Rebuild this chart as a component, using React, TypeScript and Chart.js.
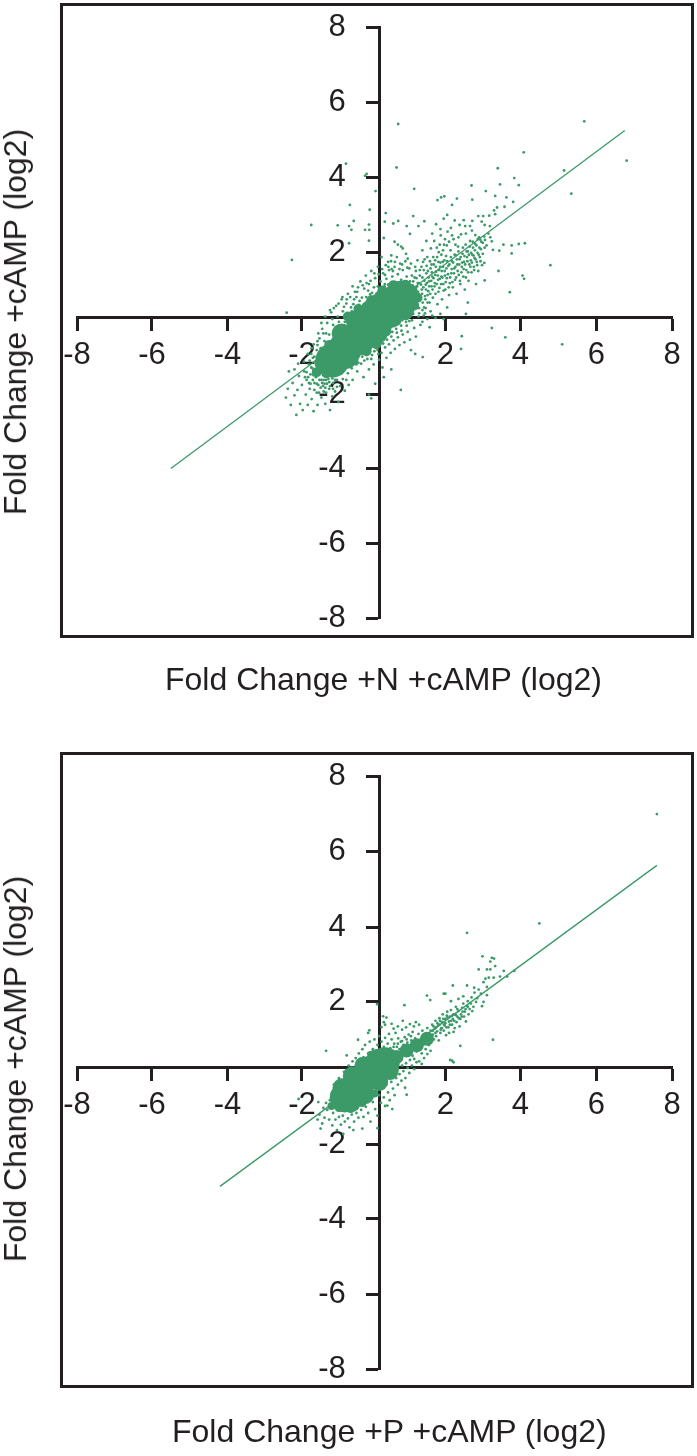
import React, { useEffect, useRef } from "react";
import { Chart, registerables, LinearScale } from "chart.js";

const tickValues = [-8, -6, -4, -2, 2, 4, 6, 8];
const warpValues = [-8, -6, -4, -2, 0, 2, 4, 6, 8];
const warpFractions = [0, 0.126, 0.253, 0.378, 0.509, 0.619, 0.745, 0.873, 1];

type P = [number, number];

const topFitLine: P[] = [[-5.5, -4.0], [6.75, 5.25]];
const topCoreWide: P[] = [[-1.22, -1.12], [-0.9, -0.83], [-0.51, -0.49], [-0.13, -0.13], [0.31, 0.28], [0.66, 0.6]];
const topCoreMid: P[] = [[-0.98, -0.42], [-0.62, -0.08], [-0.25, 0.22], [0.1, 0.55], [0.45, 0.72], [-0.85, -1.08], [-0.45, -0.72], [-0.05, -0.42], [0.35, -0.02], [0.75, 0.22]];
const topCoreEdge: P[] = [[-1.55, -1.2], [-1.3, -0.72], [-1.1, -0.4], [-0.82, 0.02], [-0.55, 0.25], [-0.22, 0.52], [0.08, 0.82], [0.41, 0.98], [0.78, 1.0], [1.0, 0.82], [1.15, 0.6], [1.05, 0.36], [0.8, 0.06], [0.5, -0.1], [0.2, -0.36], [-0.09, -0.7], [-0.34, -0.88], [-0.68, -1.12], [-1.03, -1.28], [-1.37, -1.45], [-1.62, -1.42]];
const topOutliers: P[] = [[5.68, 5.49], [6.8, 4.45], [5.15, 4.19], [5.34, 3.57], [4.09, 4.67], [0.51, 4.27], [0.56, 5.42], [-0.87, 4.37], [-0.38, 4.05], [-0.34, 4.1], [-0.11, 3.64], [1.05, 3.7], [-0.77, 3.27], [-1.76, 2.73], [-2.27, 1.76], [-2.41, 0.14], [-0.26, 3.14], [-1.08, 2.72], [-0.79, 2.7], [-0.67, 2.84], [-0.73, 2.6], [-0.38, 2.6], [-0.28, 2.74], [-0.27, 2.6], [-0.28, 2.31], [-0.79, 2.24], [0.18, 3.05], [0.15, 2.82], [0.41, 2.77], [0.56, 2.84], [0.12, 2.38], [0.82, 2.7], [1.02, 2.97], [1.36, 2.83], [1.18, 2.7], [0.92, 2.49], [1.76, 3.4], [1.87, 3.47], [1.97, 3.5], [2.18, 3.27], [2.31, 3.44], [2.72, 3.41], [2.7, 3.79], [3.08, 3.64], [3.33, 3.51], [3.4, 4.25], [3.46, 3.82], [3.84, 3.99], [3.96, 3.8], [3.63, 3.47], [3.81, 3.35], [3.58, 3.22], [3.38, 3.2], [3.3, 3.12], [3.33, 3.02], [2.88, 2.97], [3.01, 2.97], [3.17, 2.98], [2.72, 2.84], [2.97, 2.82], [3.05, 2.73], [3.19, 2.7], [2.49, 2.86], [2.38, 2.73], [2.53, 2.7], [2.66, 2.7], [2.71, 2.58], [2.8, 2.46], [2.93, 2.34], [3.06, 2.33], [3.24, 2.29], [3.27, 2.06], [3.44, 2.04], [3.55, 2.2], [3.77, 2.18], [3.77, 1.96], [3.96, 2.22], [4.12, 2.24], [4.06, 1.28], [4.1, 1.18], [3.72, 0.77], [3.05, 1.13], [3.04, 1.67], [3.24, -0.28], [3.6, -0.52], [2.44, -0.49], [2.42, -0.82], [1.52, -0.26], [1.31, -1.03], [0.64, -1.88], [4.79, 1.6], [5.1, -0.7], [3.42, 1.42]];
const topArm: P[] = [[1.0, 0.2], [1.05, 0.5], [1.1, 0.9], [1.12, 1.2], [1.15, 0.35], [1.18, 0.7], [1.2, 1.05], [1.22, 1.45], [1.25, 0.55], [1.28, 0.85], [1.3, 1.22], [1.32, 1.7], [1.35, 0.3], [1.38, 0.65], [1.4, 1.0], [1.42, 1.35], [1.45, 1.85], [1.48, 0.8], [1.5, 1.1], [1.52, 0.45], [1.55, 1.5], [1.56, 2.1], [1.58, 0.95], [1.6, 1.25], [1.62, 0.6], [1.65, 1.62], [1.66, 2.3], [1.68, 1.05], [1.7, 0.72], [1.72, 1.4], [1.75, 1.85], [1.76, 0.4], [1.78, 1.15], [1.8, 2.0], [1.82, 0.9], [1.84, 1.55], [1.86, 2.45], [1.88, 1.25], [1.9, 0.55], [1.92, 1.7], [1.94, 1.02], [1.96, 2.2], [1.98, 1.42], [2.0, 0.85], [2.02, 1.88], [2.04, 1.2], [2.06, 2.55], [2.08, 1.58], [2.1, 0.68], [2.12, 1.05], [2.14, 2.05], [2.16, 1.35], [2.18, 1.72], [2.2, 0.92], [2.22, 2.35], [2.24, 1.5], [2.26, 1.15], [2.28, 1.9], [2.3, 0.72], [2.32, 1.62], [2.34, 2.15], [2.36, 1.3], [2.38, 1.78], [2.4, 1.02], [2.42, 2.48], [2.44, 1.55], [2.46, 1.95], [2.48, 1.25], [2.5, 1.7], [2.52, 0.85], [2.54, 2.2], [2.56, 1.45], [2.58, 1.85], [2.6, 2.02], [2.62, 1.12], [2.64, 1.62], [2.66, 2.3], [2.68, 1.75], [2.7, 1.38], [2.72, 1.92], [2.74, 2.12], [2.76, 1.55], [2.78, 1.82], [2.8, 2.22], [2.82, 1.02], [2.84, 1.7], [2.86, 1.98], [2.88, 1.42], [2.9, 2.4], [2.92, 1.85], [2.95, 2.08], [2.98, 1.6], [3.0, 2.25], [3.04, 2.42], [3.1, 2.18], [3.15, 2.5], [3.2, 2.4], [1.3, 2.05], [1.42, 2.3], [1.15, 1.75], [1.08, 1.55], [0.95, 1.65], [0.85, 1.8], [0.8, 1.95], [0.7, 2.1], [0.65, 2.15], [0.55, 2.2], [0.45, 2.28], [0.35, 1.9], [0.25, 1.7], [1.72, 2.75], [1.95, 2.9], [2.05, 3.0], [2.15, 2.65], [2.25, 2.85], [1.6, 2.5], [1.85, 2.62], [2.35, 2.4], [2.55, 2.5], [2.6, 0.45], [2.55, 0.1], [1.85, 0.1], [2.05, 0.3], [1.95, -0.05], [1.7, -0.02]];
const topArmDense: P[] = [[1.02, 0.42], [1.06, 0.68], [1.1, 0.52], [1.14, 0.95], [1.17, 0.78], [1.2, 0.28], [1.23, 0.62], [1.26, 1.0], [1.29, 0.72], [1.31, 0.45], [1.33, 0.92], [1.36, 1.12], [1.39, 0.55], [1.41, 0.85], [1.44, 1.05], [1.46, 0.68], [1.49, 1.22], [1.51, 0.95], [1.54, 0.72], [1.57, 1.12], [1.59, 1.38], [1.61, 0.85], [1.64, 1.2], [1.67, 0.95], [1.69, 1.3], [1.71, 1.55], [1.74, 1.02], [1.77, 1.28], [1.79, 0.78], [1.81, 1.45], [1.83, 1.18], [1.85, 1.68], [1.87, 1.02], [1.89, 1.42], [1.91, 1.22], [1.93, 1.55], [1.95, 0.82], [1.97, 1.75], [1.99, 1.28], [2.01, 1.08], [2.03, 1.5], [2.05, 1.72], [2.07, 1.32], [2.09, 0.92], [2.11, 1.62], [2.13, 1.22], [2.15, 1.85], [2.17, 1.48], [2.19, 1.08], [2.21, 1.68], [2.23, 1.35], [2.25, 1.92], [2.27, 1.55], [2.29, 1.22], [2.31, 1.78], [2.33, 1.42], [2.35, 2.02], [2.37, 1.62], [2.39, 1.12], [2.41, 1.85], [2.43, 1.38], [2.45, 1.68], [2.47, 2.12], [2.49, 1.48], [2.51, 1.88], [2.53, 1.62], [2.55, 1.22], [2.57, 2.02], [2.59, 1.72], [2.61, 1.38], [2.63, 1.92], [2.65, 2.15], [2.67, 1.55], [2.69, 1.98], [2.71, 1.68], [2.73, 2.28], [2.75, 1.9], [2.77, 1.45], [2.79, 2.05], [2.81, 1.78], [2.83, 2.18], [2.85, 1.6], [2.87, 2.35], [2.89, 1.92], [2.91, 2.12], [2.94, 1.72], [2.96, 2.28], [3.0, 1.95], [3.05, 2.12], [1.0, 0.98], [1.06, 1.22], [1.1, 1.42], [1.16, 1.05], [1.22, 1.28], [1.27, 1.55], [1.34, 1.45], [1.37, 1.78], [1.43, 1.58], [1.47, 1.42], [1.53, 1.72], [1.58, 1.62], [1.63, 1.85], [1.69, 1.75], [1.74, 2.12], [1.79, 1.7], [1.83, 2.2], [1.88, 1.92], [1.93, 2.05], [1.99, 2.35], [2.04, 2.18], [2.1, 2.28], [2.18, 2.45], [2.27, 2.2]];
const topBandUpper: P[] = [[-1.62, -0.85], [-1.55, -0.55], [-1.48, -0.3], [-1.42, -0.62], [-1.35, -0.15], [-1.3, -0.45], [-1.25, 0.15], [-1.2, -0.2], [-1.15, -0.55], [-1.12, 0.35], [-1.08, 0.02], [-1.02, -0.3], [-0.98, 0.55], [-0.95, 0.18], [-0.9, -0.12], [-0.86, 0.42], [-0.82, 0.72], [-0.78, 0.08], [-0.74, 0.3], [-0.7, 0.95], [-0.66, 0.55], [-0.62, 0.15], [-0.58, 0.78], [-0.54, 0.38], [-0.5, 1.1], [-0.46, 0.6], [-0.42, 0.28], [-0.4, 0.88], [-0.36, 1.28], [-0.32, 0.48], [-0.28, 1.02], [-0.25, 0.7], [-0.22, 1.42], [-0.18, 0.4], [-0.15, 0.92], [-0.12, 1.2], [-0.08, 0.62], [-0.05, 1.55], [-0.02, 0.82], [0.02, 1.1], [0.05, 1.85], [0.08, 0.65], [0.1, 1.35], [0.14, 0.95], [0.18, 1.6], [0.2, 1.18], [0.24, 0.8], [0.28, 1.45], [0.3, 1.02], [0.34, 1.72], [0.38, 1.25], [0.42, 0.85], [0.45, 1.55], [0.48, 1.08], [0.52, 1.85], [0.55, 1.32], [0.58, 0.92], [0.62, 1.65], [0.65, 1.15], [0.7, 1.45], [0.74, 0.98], [0.78, 1.72], [0.82, 1.25], [0.86, 1.05], [0.9, 1.5], [0.95, 0.85], [0.98, 1.28], [-0.6, 0.62], [-0.92, 0.32], [-1.22, -0.05], [-1.45, -0.42], [-0.3, 0.82], [0.15, 1.02], [0.4, 1.42], [-0.15, 0.65], [-0.05, 0.95], [-1.6, -0.62], [-1.52, -0.8], [-1.38, -0.42], [-1.3, -0.68], [-1.18, -0.38], [-1.05, -0.12], [-0.88, 0.05], [-0.72, 0.18], [-0.68, 0.4], [-0.52, 0.5], [-0.35, 0.62], [-0.2, 0.75], [-0.1, 0.5], [0.05, 0.78], [0.12, 0.52], [0.25, 1.0], [0.35, 0.72], [0.5, 0.8], [0.6, 1.02], [0.72, 0.82], [0.85, 0.88], [0.92, 1.1], [1.02, 1.1], [-1.76, -0.95], [-1.7, -0.7], [-1.58, -0.42], [-1.5, -0.15], [-1.4, 0.02], [-1.28, 0.22], [-1.18, 0.28], [-1.06, 0.42], [-0.96, 0.62], [-0.85, 0.55], [-0.76, 0.62], [-0.64, 0.78], [-0.56, 0.92], [-0.44, 0.98], [-0.34, 1.05], [-0.24, 1.12], [-0.14, 1.35], [-0.03, 1.32], [0.07, 1.48], [0.16, 1.3], [0.26, 1.55], [0.36, 1.48], [0.46, 1.7], [0.6, 1.48], [0.68, 1.62], [0.84, 1.52]];
const topBandLower: P[] = [[-0.82, -1.45], [-0.75, -1.25], [-0.7, -1.62], [-0.65, -1.1], [-0.58, -1.4], [-0.52, -0.95], [-0.48, -1.2], [-0.42, -1.55], [-0.38, -0.85], [-0.32, -1.08], [-0.28, -1.35], [-0.24, -0.72], [-0.2, -0.98], [-0.16, -1.22], [-0.12, -1.72], [-0.1, -0.62], [-0.06, -0.85], [-0.02, -1.1], [0.02, -0.68], [0.05, -0.92], [0.08, -1.3], [0.12, -0.55], [0.16, -0.78], [0.2, -1.05], [0.24, -0.45], [0.28, -0.7], [0.33, -0.92], [0.38, -0.38], [0.42, -0.6], [0.46, -0.82], [0.5, -0.3], [0.55, -0.52], [0.6, -0.72], [0.65, -0.22], [0.7, -0.45], [0.75, -0.65], [0.8, -0.12], [0.85, -0.38], [0.92, -0.58], [0.98, -0.08], [1.05, -0.28], [1.1, -0.5], [1.18, 0.02], [1.24, -0.2], [1.3, -0.12], [1.38, 0.12], [1.45, -0.05], [1.55, 0.18], [1.6, 0.05], [0.95, -0.85], [1.08, -0.95], [-0.28, -2.0], [-0.22, -2.1], [0.12, -1.55], [0.35, -1.35], [-0.6, -1.22], [-0.45, -1.02], [-0.3, -0.88], [-0.15, -0.75], [0.0, -0.6], [0.18, -0.42], [0.32, -0.28], [0.48, -0.12], [0.62, 0.02], [0.75, 0.12], [0.88, 0.2], [1.0, 0.32], [1.12, 0.28], [1.02, 0.1], [0.9, -0.1], [0.78, 0.0], [0.68, -0.08], [-0.72, -1.32], [-0.62, -1.05], [-0.55, -1.18], [-0.4, -1.12], [-0.34, -0.98], [-0.22, -1.08], [-0.14, -0.88], [-0.04, -0.95], [0.1, -0.68], [0.22, -0.58], [0.35, -0.5], [0.52, -0.4], [0.66, -0.35], [0.82, -0.22], [1.2, 0.12], [1.3, 0.22], [1.4, 0.28], [1.46, 0.45], [1.34, 0.05]];
const topTail: P[] = [[-2.43, -2.08], [-2.38, -1.85], [-2.3, -2.28], [-2.25, -1.7], [-2.2, -2.02], [-2.15, -2.55], [-2.12, -1.88], [-2.08, -1.52], [-2.05, -2.25], [-2.0, -1.75], [-1.98, -2.42], [-1.94, -1.4], [-1.9, -2.0], [-1.88, -1.62], [-1.85, -2.28], [-1.82, -1.22], [-1.8, -1.85], [-1.78, -1.48], [-1.75, -2.12], [-1.72, -1.05], [-1.7, -2.45], [-1.68, -1.7], [-1.65, -1.35], [-1.62, -1.95], [-1.6, -2.28], [-1.58, -1.18], [-1.55, -1.62], [-1.52, -1.82], [-1.5, -2.08], [-1.48, -0.95], [-1.45, -1.5], [-1.42, -1.72], [-1.4, -2.25], [-1.38, -1.95], [-1.35, -0.75], [-1.32, -1.6], [-1.3, -1.85], [-1.28, -2.42], [-1.25, -1.48], [-1.22, -2.05], [-1.2, -1.7], [-1.18, -0.68], [-1.15, -1.92], [-1.12, -1.42], [-1.1, -1.62], [-1.06, -2.2], [-1.02, -1.78], [-0.98, -1.45], [-0.95, -1.6], [-0.9, -1.9], [-0.86, -1.62], [-0.8, -1.75], [-1.95, -1.15], [-1.85, -0.95], [-2.35, -1.4], [-1.75, -0.8], [-1.6, -0.72], [-2.1, -1.2], [-2.2, -1.35], [-1.92, -1.55], [-1.82, -1.7], [-1.76, -1.3], [-1.7, -1.5], [-1.66, -1.15], [-1.6, -1.42], [-1.58, -1.75], [-1.54, -1.0], [-1.5, -1.62], [-1.46, -1.78], [-1.42, -1.08], [-1.38, -1.62], [-1.34, -1.42], [-1.22, -1.58], [-1.1, -1.8], [-1.68, -1.88], [-1.56, -1.95], [-1.44, -1.92], [-1.3, -1.68], [-1.88, -1.42], [-1.84, -1.55], [-1.8, -1.12], [-1.78, -1.72], [-1.73, -1.32], [-1.72, -1.62], [-1.68, -1.02], [-1.64, -1.55], [-1.62, -1.72], [-1.56, -1.42], [-1.52, -1.25], [-1.48, -1.7], [-1.44, -1.62], [-1.4, -1.82], [-1.36, -1.72], [-1.28, -1.78], [-1.2, -1.85], [-1.15, -1.62]];

const bottomFitLine: P[] = [[-4.2, -3.12], [7.6, 5.63]];
const bottomCoreWide: P[] = [[-0.9, -0.78], [-0.64, -0.52], [-0.38, -0.26], [-0.13, -0.04], [0.15, 0.15]];
const bottomCoreMid: P[] = [[-0.98, -0.52], [-0.72, -0.22], [-0.42, 0.05], [-0.08, 0.28], [-0.72, -0.92], [-0.38, -0.72], [-0.02, -0.38], [0.3, -0.1]];
const bottomCoreNarrow: P[] = [[0.51, 0.31], [0.82, 0.51], [1.13, 0.67], [1.44, 0.87]];
const bottomCoreEdge: P[] = [[-1.24, -1.0], [-1.12, -0.7], [-0.98, -0.42], [-0.72, -0.08], [-1.05, -1.05], [-0.75, -1.08], [-0.45, -0.92], [-0.14, -0.68], [0.12, -0.38], [0.42, -0.12], [-0.5, 0.15], [-0.22, 0.38], [0.18, 0.46]];
const bottomOutliers: P[] = [[7.6, 6.99], [4.5, 4.1], [2.58, 3.85], [-1.38, 0.5], [3.27, 0.84], [2.99, 3.22], [3.24, 3.18], [3.3, 3.16], [3.2, 3.08], [2.89, 2.87], [3.11, 2.87], [3.2, 2.87], [3.33, 2.96], [3.56, 2.83], [3.46, 2.68], [3.65, 2.68], [3.84, 2.83], [3.16, 2.65], [3.07, 2.62], [3.29, 2.65], [3.02, 2.53], [3.11, 2.4], [2.89, 2.33], [2.95, 2.22], [3.11, 2.18], [3.02, 2.0], [2.98, 1.87], [2.58, 2.44], [2.77, 2.38], [2.2, 2.44], [1.95, 2.22], [2.0, 2.22], [1.44, 2.17], [1.54, 2.05], [0.75, 1.9], [2.18, 0.2], [2.22, 0.15], [2.13, 0.22], [2.4, 0.65], [-0.07, 1.93], [0.1, 1.56], [0.2, 1.52], [0.12, 1.38], [0.16, 1.3], [0.36, 1.33], [0.05, 1.23], [-0.3, 1.05], [-0.27, 1.13], [-0.56, 0.84], [-0.85, 0.36], [-0.06, -1.57], [-0.68, -1.62], [-0.45, -1.58], [-0.94, -1.72], [-1.58, -0.9], [-2.09, -0.82], [0.38, -1.08], [0.23, -0.99], [0.77, -0.53], [0.82, -0.71]];
const bottomArm: P[] = [[1.0, 0.35], [1.04, 0.62], [1.08, 0.88], [1.12, 0.48], [1.15, 0.75], [1.18, 1.02], [1.22, 0.6], [1.25, 0.85], [1.28, 0.42], [1.3, 1.12], [1.34, 0.7], [1.36, 0.95], [1.4, 0.55], [1.42, 0.82], [1.45, 1.2], [1.48, 1.02], [1.5, 0.68], [1.52, 0.9], [1.55, 1.12], [1.58, 0.78], [1.6, 1.3], [1.62, 1.0], [1.65, 0.85], [1.68, 1.18], [1.7, 1.42], [1.72, 0.95], [1.75, 1.1], [1.78, 1.28], [1.8, 0.82], [1.82, 1.5], [1.85, 1.05], [1.88, 1.2], [1.9, 1.38], [1.92, 1.62], [1.95, 1.12], [1.98, 1.28], [2.0, 1.48], [2.02, 0.98], [2.05, 1.7], [2.08, 1.22], [2.1, 1.4], [2.12, 1.55], [2.15, 1.75], [2.18, 1.3], [2.2, 1.48], [2.22, 1.08], [2.25, 1.62], [2.28, 1.85], [2.3, 1.38], [2.32, 1.55], [2.35, 1.72], [2.38, 1.25], [2.4, 1.48], [2.42, 1.62], [2.45, 1.82], [2.48, 1.95], [2.5, 1.55], [2.52, 1.7], [2.55, 1.4], [2.58, 1.88], [2.6, 2.02], [2.62, 1.62], [2.65, 1.78], [2.68, 1.95], [2.7, 2.12], [2.72, 1.72], [2.75, 1.85], [2.78, 2.25], [2.82, 2.0], [2.85, 2.1], [2.48, 2.15], [2.35, 2.08], [2.15, 2.02], [2.25, 1.2], [2.1, 1.05], [1.1, 0.7], [1.2, 0.82], [1.3, 0.9], [1.38, 0.78], [1.46, 0.88], [1.54, 1.0], [1.62, 1.12], [1.72, 1.22], [1.82, 1.3], [1.9, 1.2], [2.0, 1.35], [2.06, 1.52], [2.16, 1.42], [2.22, 1.62], [2.32, 1.78], [1.64, 1.25], [1.7, 1.05], [1.76, 1.35], [1.84, 1.42], [1.86, 1.15], [1.94, 1.48], [1.96, 1.3], [2.03, 1.22], [2.04, 1.58], [2.12, 1.3], [2.18, 1.58], [2.24, 1.42], [2.28, 1.6], [2.36, 1.5], [2.44, 1.55], [2.46, 1.7], [2.54, 1.78], [2.6, 1.85]];
const bottomBandUpper: P[] = [[-1.2, -0.7], [-1.18, -0.45], [-1.12, -0.6], [-1.05, -0.28], [-0.98, -0.42], [-0.92, -0.12], [-0.85, -0.3], [-0.8, 0.05], [-0.76, -0.18], [-0.7, 0.18], [-0.66, -0.05], [-0.62, 0.28], [-0.58, 0.08], [-0.54, 0.42], [-0.5, 0.18], [-0.45, 0.55], [-0.42, 0.3], [-0.38, 0.68], [-0.34, 0.2], [-0.3, 0.42], [-0.26, 0.78], [-0.22, 0.3], [-0.18, 0.55], [-0.14, 0.85], [-0.1, 0.42], [-0.06, 0.68], [-0.02, 0.95], [0.02, 0.52], [0.05, 0.78], [0.08, 0.36], [0.12, 0.62], [0.16, 0.9], [0.2, 0.48], [0.24, 0.72], [0.28, 1.02], [0.32, 0.58], [0.36, 0.85], [0.4, 0.5], [0.44, 0.72], [0.48, 1.05], [0.52, 0.62], [0.56, 0.88], [0.6, 0.55], [0.64, 0.78], [0.68, 1.15], [0.72, 0.68], [0.76, 0.92], [0.8, 1.22], [0.84, 0.75], [0.88, 1.0], [0.92, 1.32], [0.96, 0.82], [1.0, 1.08], [1.04, 1.25], [1.1, 1.38], [1.2, 1.3], [0.7, 1.42], [0.55, 1.25], [0.42, 1.18], [0.3, 0.4], [0.22, 0.35], [0.42, 0.62], [0.55, 0.72], [0.68, 0.8], [0.82, 0.85], [0.95, 0.95]];
const bottomBandLower: P[] = [[-1.35, -1.1], [-1.3, -1.35], [-1.28, -0.85], [-1.22, -1.5], [-1.2, -1.18], [-1.14, -1.35], [-1.1, -1.62], [-1.05, -1.28], [-1.0, -1.48], [-0.95, -1.25], [-0.9, -1.4], [-0.82, -1.32], [-0.78, -1.55], [-0.72, -1.22], [-0.66, -1.4], [-0.6, -1.18], [-0.55, -1.3], [-0.48, -1.1], [-0.42, -1.28], [-0.36, -1.02], [-0.3, -1.18], [-0.24, -1.4], [-0.18, -0.9], [-0.12, -1.08], [-0.06, -1.25], [-0.02, -0.72], [0.03, -0.92], [0.08, -0.55], [0.12, -0.78], [0.16, -1.0], [0.2, -0.45], [0.25, -0.65], [0.3, -0.85], [0.35, -0.38], [0.4, -0.55], [0.45, -0.72], [0.5, -0.28], [0.55, -0.45], [0.6, -0.18], [0.66, -0.35], [0.72, -0.1], [0.78, -0.28], [0.85, -0.02], [0.9, -0.15], [0.98, 0.05], [1.05, -0.05], [1.12, 0.15], [1.2, 0.18], [1.28, 0.1], [1.35, 0.28], [1.45, 0.4], [1.55, 0.5], [-1.42, -1.3], [-1.48, -1.45], [-1.55, -1.22], [-1.45, -1.05], [-1.38, -0.92], [-1.6, -1.35], [-1.52, -1.58], [0.42, -0.12], [0.55, -0.05], [0.68, 0.05], [0.8, 0.12], [0.92, 0.22], [1.05, 0.25]];

const warp = (value: number) => {
  for (let i = 1; i < warpValues.length; i++) {
    if (value <= warpValues[i]) {
      const t = (value - warpValues[i - 1]) / (warpValues[i] - warpValues[i - 1]);
      return warpFractions[i - 1] + t * (warpFractions[i] - warpFractions[i - 1]);
    }
  }
  return 1;
};
const unwarp = (fraction: number) => {
  for (let i = 1; i < warpFractions.length; i++) {
    if (fraction <= warpFractions[i]) {
      const t = (fraction - warpFractions[i - 1]) / (warpFractions[i] - warpFractions[i - 1]);
      return warpValues[i - 1] + t * (warpValues[i] - warpValues[i - 1]);
    }
  }
  return 8;
};

const Y_LABEL_SHIFT = 34;

class WarpedScale extends (LinearScale as any) {
  static id = "warped";
  static defaults = (LinearScale as any).defaults;
  getPixelForValue(value: number) {
    return (this as any).getPixelForDecimal(warp(value));
  }
  getValueForPixel(pixel: number) {
    return unwarp((this as any).getDecimalForPixel(pixel));
  }
  _computeLabelItems(area: any) {
    const items = super._computeLabelItems(area);
    if (!(this as any).isHorizontal()) {
      items.forEach((item: any) => {
        item.options.translation = [item.options.translation[0] - Y_LABEL_SHIFT, item.options.translation[1]];
      });
    }
    return items;
  }
}

Chart.register(...registerables, WarpedScale as any);

const GREEN = "#3b9a68";
const INK = "#231f20";
const FONT = "'Liberation Sans', Arial, sans-serif";

const pts = (rows: P[]) => rows.map(([x, y]) => ({ x, y }));
const dots = (rows: P[], radius: number) => ({
  type: "scatter" as const,
  data: pts(rows),
  pointRadius: radius,
  pointBorderWidth: 0,
  pointBackgroundColor: GREEN,
  showLine: false,
});

const axis = (position: any, padding: number) => ({
  type: "warped",
  min: -8,
  max: 8,
  position,
  afterBuildTicks: (scale: any) => {
    scale.ticks = tickValues.map((value) => ({ value }));
  },
  border: { display: true, width: 3, color: INK },
  grid: { display: true, drawOnChartArea: false, drawTicks: true, tickLength: 12, tickWidth: 3, tickColor: INK },
  ticks: {
    autoSkip: false,
    maxRotation: 0,
    padding,
    color: INK,
    font: { family: FONT, size: 31 },
    callback: (v: any) => String(v),
  },
});

function Panel({ top, height, bottomPad, sets }: { top: number; height: number; bottomPad: number; sets: any[] }) {
  const ref = useRef<HTMLCanvasElement>(null);
  useEffect(() => {
    const chart = new Chart(ref.current!, {
      type: "scatter",
      data: { datasets: sets },
      options: {
        animation: false,
        responsive: false,
        layout: { padding: { left: 77, right: 25, top: 27, bottom: bottomPad } },
        plugins: { legend: { display: false }, tooltip: { enabled: false } },
        scales: { x: axis({ y: 0 }, 8), y: axis({ x: 0 }, 0) } as any,
      },
    } as any);
    return () => chart.destroy();
  }, []);
  return <canvas ref={ref} width={697} height={height} style={{ position: "absolute", left: 0, top, width: 697, height }} />;
}

const textStyle: React.CSSProperties = {
  position: "absolute",
  fontFamily: FONT,
  fontSize: 32,
  color: INK,
  whiteSpace: "nowrap",
  lineHeight: "36px",
};

const frame = (top: number, height: number): React.CSSProperties => ({
  position: "absolute",
  left: 60,
  top,
  width: 628,
  height,
  border: `3px solid ${INK}`,
  boxSizing: "content-box",
});

const rotated = (centerY: number): React.CSSProperties => ({
  ...textStyle,
  left: 15,
  top: centerY,
  transform: "translate(-50%, -50%) rotate(-90deg)",
});

const fitLine = (rows: P[]) => ({ type: "scatter" as const, data: pts(rows), showLine: true, borderColor: GREEN, borderWidth: 1.3, pointRadius: 0 });

const topSets = [
  fitLine(topFitLine),
  dots(topCoreWide, 17),
  dots(topCoreMid, 10),
  dots(topCoreEdge, 5),
  dots(topOutliers, 1.4),
  dots(topArm, 1.4),
  dots(topArmDense, 1.4),
  dots(topBandUpper, 1.4),
  dots(topBandLower, 1.4),
  dots(topTail, 1.4),
];
const bottomSets = [
  fitLine(bottomFitLine),
  dots(bottomCoreWide, 15),
  dots(bottomCoreMid, 9),
  dots(bottomCoreNarrow, 7),
  dots(bottomCoreEdge, 4),
  dots(bottomOutliers, 1.4),
  dots(bottomArm, 1.4),
  dots(bottomBandUpper, 1.4),
  dots(bottomBandLower, 1.4),
];

export default function App() {
  return (
    <div style={{ position: "absolute", left: 0, top: 0, width: 697, height: 1456, background: "#fff", overflow: "hidden" }}>
      <Panel top={0} height={700} bottomPad={82} sets={topSets} />
      <Panel top={749} height={700} bottomPad={80} sets={bottomSets} />
      <div style={frame(3, 629)} />
      <div style={frame(752, 630)} />
      <div style={{ ...textStyle, left: 165, top: 661 }}>Fold Change +N +cAMP (log2)</div>
      <div style={{ ...textStyle, left: 172, top: 1413 }}>Fold Change +P +cAMP (log2)</div>
      <div style={rotated(322)}>Fold Change +cAMP (log2)</div>
      <div style={rotated(1069)}>Fold Change +cAMP (log2)</div>
    </div>
  );
}
